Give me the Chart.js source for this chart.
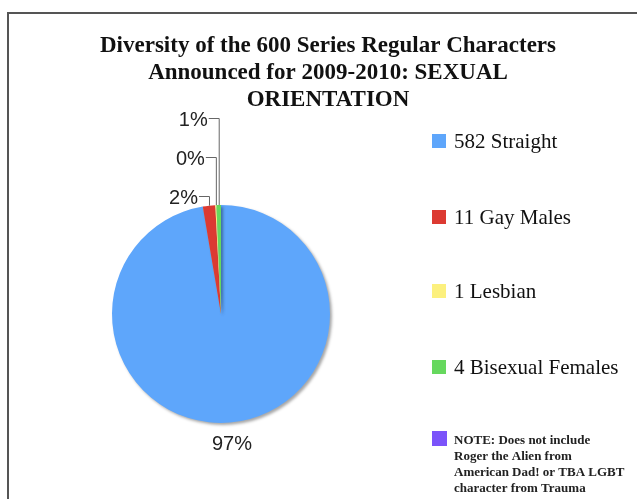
<!DOCTYPE html>
<html>
<head>
<meta charset="utf-8">
<script src="https://cdn.jsdelivr.net/npm/chart.js@4/dist/chart.umd.min.js"></script>
<style>
  html, body { margin: 0; padding: 0; background: #fff; overflow: hidden; }
  #wrap { position: relative; width: 637px; height: 499px; }
  #frame { position: absolute; left: 7px; top: 12px; width: 700px; height: 600px; border: 2px solid #555; box-sizing: border-box; }
  canvas { position: absolute; left: 0; top: 0; }
</style>
</head>
<body>
<div id="wrap">
  <div id="frame"></div>
  <canvas id="chart" width="637" height="499"></canvas>
</div>
<script>
const titleLines = [
  'Diversity of the 600 Series Regular Characters',
  'Announced for 2009-2010: SEXUAL',
  'ORIENTATION',
];
const categories = ['Straight', 'Gay Males', 'Lesbian', 'Bisexual Females'];
const counts = [582, 11, 1, 4];
const colors = ['#5ea6fb', '#dc3a32', '#fcf07e', '#66d85e'];
const noteColor = '#7b53fa';
const noteLines = [
  'NOTE: Does not include',
  'Roger the Alien from',
  'American Dad! or TBA LGBT',
  'character from Trauma',
];

const total = counts.reduce((a, b) => a + b, 0);

function pct(v) {
  return Math.round((v / total) * 100) + '%';
}

// soft shadow under the pie, like the original
const shadowPlugin = {
  id: 'pieShadow',
  beforeDatasetsDraw(chart) {
    const ctx = chart.ctx;
    ctx.save();
    ctx.shadowColor = 'rgba(0,0,0,0.35)';
    ctx.shadowBlur = 3;
    ctx.shadowOffsetX = 2;
    ctx.shadowOffsetY = 2;
  },
  afterDatasetsDraw(chart) {
    chart.ctx.restore();
  },
};

const extrasPlugin = {
  id: 'extras',
  afterDraw(chart) {
    const ctx = chart.ctx;
    ctx.save();

    // title
    ctx.fillStyle = '#111';
    ctx.textAlign = 'center';
    ctx.textBaseline = 'middle';
    ctx.font = 'bold 23px "Liberation Serif"';
    titleLines.forEach((line, i) => ctx.fillText(line, 328, 46 + i * 27));

    // percentage labels
    const meta = chart.getDatasetMeta(0);
    ctx.strokeStyle = '#666';
    ctx.lineWidth = 1;
    ctx.font = '20px "Liberation Sans"';
    ctx.fillStyle = '#222';
    meta.data.forEach((arc, i) => {
      const p = arc.getProps(['x', 'y', 'startAngle', 'endAngle', 'outerRadius'], true);
      const mid = (p.startAngle + p.endAngle) / 2;
      const text = pct(counts[i]);
      if (i === 0) {
        const r = p.outerRadius + 21;
        ctx.textAlign = 'center';
        ctx.fillText(text, p.x + Math.cos(mid) * r, p.y + Math.sin(mid) * r + 1);
        return;
      }
      const ax = p.x + Math.cos(mid) * p.outerRadius;
      const ay = p.y + Math.sin(mid) * p.outerRadius;
      const ly = p.y - p.outerRadius - 9 - (i - 1) * 39;
      const tx = ax - 10;
      ctx.beginPath();
      ctx.moveTo(ax + 0.5, ay);
      ctx.lineTo(ax + 0.5, ly + 0.5);
      ctx.lineTo(tx, ly + 0.5);
      ctx.stroke();
      ctx.textAlign = 'right';
      ctx.fillText(text, tx - 1, ly + 2);
    });

    // legend
    ctx.textAlign = 'left';
    const rows = [141, 217, 291, 367];
    categories.forEach((name, i) => {
      ctx.fillStyle = colors[i];
      ctx.fillRect(432, rows[i] - 7, 14, 14);
      ctx.fillStyle = '#111';
      ctx.font = '21px "Liberation Serif"';
      ctx.fillText(counts[i] + ' ' + name, 454, rows[i] + 1);
    });

    // note entry
    ctx.fillStyle = noteColor;
    ctx.fillRect(432, 431, 15, 15);
    ctx.fillStyle = '#222';
    ctx.font = 'bold 13px "Liberation Serif"';
    noteLines.forEach((line, i) => ctx.fillText(line, 454, 441 + i * 16));

    ctx.restore();
  },
};

new Chart(document.getElementById('chart'), {
  type: 'pie',
  data: {
    labels: categories,
    datasets: [{
      data: counts,
      backgroundColor: colors,
      borderWidth: 0,
    }],
  },
  options: {
    responsive: false,
    animation: false,
    layout: { padding: { left: 112, right: 307, top: 205, bottom: 76 } },
    plugins: {
      legend: { display: false },
      title: { display: false },
      tooltip: { enabled: false },
    },
  },
  plugins: [shadowPlugin, extrasPlugin],
});
</script>
</body>
</html>
